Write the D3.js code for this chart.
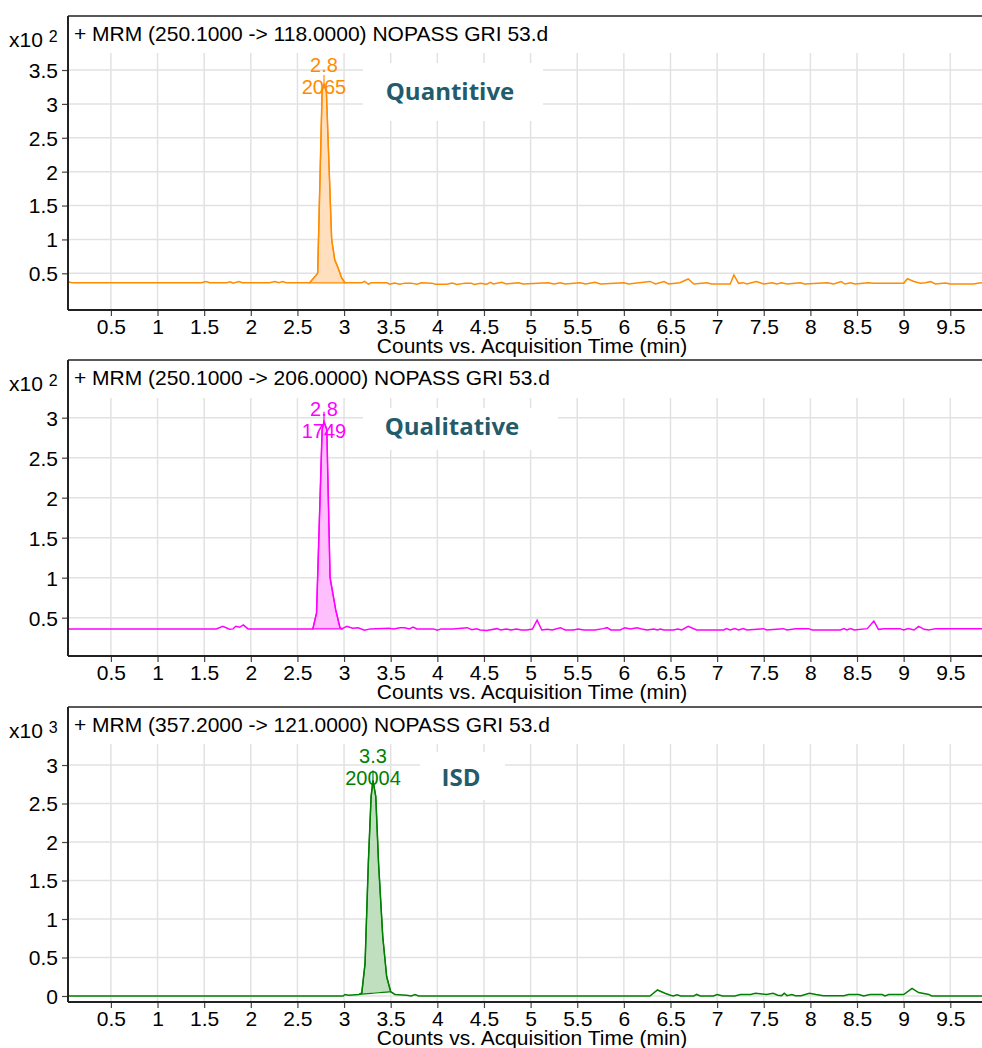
<!DOCTYPE html>
<html>
<head>
<meta charset="utf-8">
<script src="https://cdn.jsdelivr.net/npm/d3@7"></script>
<style>
  body { margin: 0; background: #fff; }
  svg { display: block; font-family: 'Liberation Sans', Arial, sans-serif; }
  .tick text { font-size: 21px; fill: #000; }
  .big-label { font-family: 'Open Sans', sans-serif; font-weight: 700; font-size: 24px; fill: #235b6b; }
</style>
</head>
<body>
<div id="chart"></div>
<script>
// Data
const xTicks = [0.5, 1, 1.5, 2, 2.5, 3, 3.5, 4, 4.5, 5, 5.5, 6, 6.5, 7, 7.5, 8, 8.5, 9, 9.5];
const yTicksQuant = [0.5, 1, 1.5, 2, 2.5, 3, 3.5];
const yTicksQual = [0.5, 1, 1.5, 2, 2.5, 3];
const yTicksIsd = [0, 0.5, 1, 1.5, 2, 2.5, 3];

const titles = [
  '+ MRM (250.1000 -> 118.0000) NOPASS GRI 53.d',
  '+ MRM (250.1000 -> 206.0000) NOPASS GRI 53.d',
  '+ MRM (357.2000 -> 121.0000) NOPASS GRI 53.d',
];
const exponents = ['2', '2', '3'];
const compoundLabels = ['Quantitive', 'Qualitative', 'ISD'];
const rtLabels = ['2.8', '2.8', '3.3'];
const areaLabels = ['2065', '1749', '20004'];
const apexTimes = [2.785, 2.785, 3.31];
const integration = [[2.63, 3.01], [2.665, 2.975], [3.16, 3.5]];

// [time (min), counts (x10^2)]
const traceQuant = [
  [0.04, 0.375], [0.08, 0.36], [1.47, 0.36], [1.52, 0.38], [1.56, 0.36], [1.74, 0.36], [1.78, 0.375],
  [1.81, 0.355], [1.87, 0.38], [1.91, 0.36], [2.2, 0.36], [2.26, 0.38], [2.3, 0.36], [2.34, 0.38],
  [2.38, 0.36], [2.63, 0.36], [2.68, 0.44], [2.717, 0.5], [2.765, 3.2], [2.785, 3.28], [2.81, 3.2],
  [2.867, 1.0], [2.9, 0.7], [2.93, 0.6], [2.975, 0.43], [3.01, 0.36], [3.19, 0.36], [3.22, 0.38],
  [3.26, 0.34], [3.29, 0.36], [3.46, 0.36], [3.49, 0.34], [3.54, 0.355], [3.6, 0.34], [3.65, 0.355],
  [3.72, 0.355], [3.78, 0.34], [3.83, 0.36], [3.94, 0.355], [3.98, 0.34], [4.1, 0.34], [4.16, 0.355],
  [4.21, 0.335], [4.3, 0.355], [4.36, 0.355], [4.4, 0.335], [4.46, 0.352], [4.53, 0.34], [4.57, 0.367],
  [4.6, 0.342], [4.69, 0.367], [4.74, 0.342], [4.87, 0.362], [4.92, 0.342], [5.19, 0.362], [5.25, 0.342],
  [5.32, 0.362], [5.37, 0.342], [5.53, 0.362], [5.59, 0.342], [5.69, 0.367], [5.75, 0.342], [6.0, 0.362],
  [6.05, 0.342], [6.28, 0.38], [6.34, 0.342], [6.43, 0.377], [6.48, 0.342], [6.6, 0.362], [6.69, 0.416],
  [6.75, 0.342], [6.89, 0.362], [6.94, 0.342], [7.14, 0.342], [7.18, 0.475], [7.23, 0.352], [7.28, 0.362],
  [7.32, 0.342], [7.42, 0.377], [7.5, 0.342], [7.59, 0.362], [7.64, 0.342], [7.69, 0.362], [7.75, 0.342],
  [7.89, 0.362], [7.94, 0.342], [8.18, 0.362], [8.25, 0.342], [8.33, 0.377], [8.37, 0.342], [8.43, 0.362],
  [8.48, 0.342], [8.62, 0.362], [8.68, 0.352], [9.0, 0.352], [9.04, 0.42], [9.11, 0.38], [9.18, 0.352],
  [9.23, 0.362], [9.29, 0.377], [9.34, 0.342], [9.45, 0.357], [9.5, 0.342], [9.75, 0.342], [9.81, 0.357],
  [9.84, 0.362],
];

// [time (min), counts (x10^2)]
const traceQual = [
  [0.04, 0.36], [1.63, 0.36], [1.7, 0.392], [1.77, 0.355], [1.81, 0.36], [1.84, 0.392], [1.88, 0.38],
  [1.92, 0.41], [1.97, 0.36], [2.665, 0.36], [2.705, 0.56], [2.765, 2.85], [2.785, 2.95], [2.815, 2.85],
  [2.85, 1.0], [2.91, 0.6], [2.955, 0.38], [2.975, 0.36], [3.03, 0.392], [3.09, 0.367], [3.15, 0.375],
  [3.22, 0.343], [3.28, 0.36], [3.48, 0.367], [3.53, 0.36], [3.6, 0.375], [3.65, 0.375], [3.7, 0.36],
  [3.74, 0.383], [3.78, 0.36], [3.96, 0.36], [4.0, 0.343], [4.04, 0.36], [4.17, 0.36], [4.32, 0.375],
  [4.37, 0.35], [4.42, 0.36], [4.46, 0.346], [4.53, 0.34], [4.64, 0.363], [4.68, 0.346], [4.74, 0.358],
  [4.79, 0.346], [4.85, 0.358], [4.9, 0.346], [4.96, 0.346], [5.02, 0.358], [5.07, 0.47], [5.12, 0.346],
  [5.18, 0.354], [5.23, 0.346], [5.32, 0.375], [5.37, 0.346], [5.46, 0.346], [5.51, 0.358], [5.57, 0.346],
  [5.69, 0.346], [5.78, 0.363], [5.82, 0.375], [5.86, 0.346], [5.96, 0.346], [6.01, 0.375], [6.07, 0.358],
  [6.14, 0.375], [6.19, 0.358], [6.25, 0.346], [6.32, 0.358], [6.36, 0.346], [6.39, 0.358], [6.43, 0.346],
  [6.53, 0.346], [6.58, 0.358], [6.62, 0.346], [6.69, 0.392], [6.78, 0.346], [7.07, 0.346], [7.1, 0.363],
  [7.14, 0.346], [7.19, 0.363], [7.23, 0.346], [7.28, 0.363], [7.32, 0.346], [7.5, 0.363], [7.53, 0.346],
  [7.71, 0.363], [7.75, 0.346], [7.84, 0.363], [7.98, 0.363], [8.02, 0.346], [8.32, 0.346], [8.36, 0.363],
  [8.39, 0.346], [8.43, 0.363], [8.47, 0.346], [8.61, 0.363], [8.68, 0.459], [8.73, 0.354], [8.79, 0.363],
  [8.96, 0.363], [9.0, 0.346], [9.05, 0.363], [9.11, 0.346], [9.16, 0.392], [9.22, 0.354], [9.27, 0.346],
  [9.3, 0.354], [9.34, 0.363], [9.84, 0.363],
];

// [time (min), counts (x10^3)]
const traceIsd = [
  [0.04, 0.0], [2.99, 0.0], [3.01, 0.02], [3.05, 0.01], [3.16, 0.02], [3.19, 0.04], [3.225, 0.42],
  [3.26, 1.72], [3.29, 2.59], [3.31, 2.8], [3.34, 2.59], [3.37, 1.72], [3.415, 0.77], [3.457, 0.25],
  [3.5, 0.056], [3.546, 0.02], [3.67, 0.01], [3.72, 0.0], [3.76, 0.02], [3.8, 0.0], [6.28, 0.0],
  [6.36, 0.078], [6.44, 0.035], [6.5, 0.01], [6.53, 0.0], [6.57, 0.015], [6.61, 0.0], [6.75, 0.0],
  [6.78, 0.02], [6.82, 0.0], [6.96, 0.0], [7.0, 0.02], [7.06, 0.0], [7.19, 0.0], [7.25, 0.02],
  [7.36, 0.02], [7.41, 0.035], [7.46, 0.03], [7.53, 0.018], [7.6, 0.035], [7.65, 0.01], [7.69, 0.005],
  [7.72, 0.035], [7.75, 0.004], [7.8, 0.018], [7.84, 0.004], [7.9, 0.004], [7.99, 0.035], [8.06, 0.018],
  [8.14, 0.004], [8.36, 0.004], [8.41, 0.018], [8.52, 0.018], [8.57, 0.0], [8.64, 0.018], [8.77, 0.018],
  [8.8, 0.0], [8.84, 0.018], [9.0, 0.018], [9.09, 0.1], [9.16, 0.045], [9.27, 0.02], [9.3, 0.0],
  [9.84, 0.0],
];

// Layout
const width = 982;
const height = 1048;
const plotLeft = 68;
const plotRight = 982;

const panels = [
  {
    top: 16, gridTop: 53, axisY: 310, yDomain: [-0.0415, 3.751], yTicks: yTicksQuant,
    trace: traceQuant, stroke: '#ff8c00', fill: '#ffdfbd',
    box: [363, 63, 180, 58], labelX: 450, labelY: 100,
  },
  {
    top: 360, gridTop: 398, axisY: 656, yDomain: [0.021, 3.246], yTicks: yTicksQual,
    trace: traceQual, stroke: '#ff00ff', fill: '#ffbfff',
    box: [363, 408, 195, 42], labelX: 452, labelY: 435,
  },
  {
    top: 707, gridTop: 744, axisY: 1002, yDomain: [-0.078, 3.273], yTicks: yTicksIsd,
    trace: traceIsd, stroke: '#008000', fill: '#bfdfbf',
    box: [420, 752, 85, 48], labelX: 461, labelY: 786,
  },
];

const xScale = d3.scaleLinear().domain([0.04, 9.84]).range([plotLeft, plotRight]);

const svg = d3
  .select('#chart')
  .append('svg')
  .attr('width', width)
  .attr('height', height);

panels.forEach((p, i) => {
  const yScale = d3.scaleLinear().domain(p.yDomain).range([p.axisY, p.gridTop]);
  const g = svg.append('g');

  // grid
  g.append('g')
    .selectAll('line')
    .data(xTicks)
    .join('line')
    .attr('x1', (d) => xScale(d))
    .attr('x2', (d) => xScale(d))
    .attr('y1', p.gridTop)
    .attr('y2', p.axisY)
    .attr('stroke', '#e2e2e2')
    .attr('stroke-width', 1.5);
  g.append('g')
    .selectAll('line')
    .data(p.yTicks)
    .join('line')
    .attr('x1', plotLeft)
    .attr('x2', plotRight)
    .attr('y1', (d) => yScale(d))
    .attr('y2', (d) => yScale(d))
    .attr('stroke', '#e2e2e2')
    .attr('stroke-width', 1.5);

  // white box behind the compound label
  g.append('rect')
    .attr('x', p.box[0])
    .attr('y', p.box[1])
    .attr('width', p.box[2])
    .attr('height', p.box[3])
    .attr('fill', '#fff');

  // integrated peak area (between trace and a straight baseline)
  const [t0, t1] = integration[i];
  const interp = (t) => {
    const idx = d3.bisector((d) => d[0]).left(p.trace, t);
    const a = p.trace[Math.max(0, idx - 1)];
    const b = p.trace[Math.min(p.trace.length - 1, idx)];
    if (a[0] === b[0]) return a[1];
    return a[1] + ((b[1] - a[1]) * (t - a[0])) / (b[0] - a[0]);
  };
  const v0 = interp(t0);
  const v1 = interp(t1);
  const peakPts = [[t0, v0], ...p.trace.filter((d) => d[0] > t0 && d[0] < t1), [t1, v1]];
  const area = d3
    .area()
    .x((d) => xScale(d[0]))
    .y0((d) => yScale(v0 + ((v1 - v0) * (d[0] - t0)) / (t1 - t0)))
    .y1((d) => yScale(d[1]));
  g.append('path')
    .datum(peakPts)
    .attr('d', area)
    .attr('fill', p.fill)
    .attr('stroke', p.stroke)
    .attr('stroke-width', 1.2);

  // chromatogram trace
  const line = d3
    .line()
    .x((d) => xScale(d[0]))
    .y((d) => yScale(d[1]));
  g.append('path')
    .datum(p.trace)
    .attr('d', line)
    .attr('fill', 'none')
    .attr('stroke', p.stroke)
    .attr('stroke-width', 1.5);

  // apex marker + labels
  const apexX = xScale(apexTimes[i]);
  const apexY = yScale(interp(apexTimes[i]));
  g.append('line')
    .attr('x1', apexX)
    .attr('x2', apexX)
    .attr('y1', apexY)
    .attr('y2', apexY - 10)
    .attr('stroke', p.stroke)
    .attr('stroke-width', 1.2);
  g.append('text')
    .attr('x', apexX)
    .attr('y', p.top + 56)
    .attr('text-anchor', 'middle')
    .attr('fill', p.stroke)
    .style('font-size', '20px')
    .text(rtLabels[i]);
  g.append('text')
    .attr('x', apexX)
    .attr('y', p.top + 77.5)
    .attr('text-anchor', 'middle')
    .attr('fill', p.stroke)
    .style('font-size', '20px')
    .text(areaLabels[i]);

  g.append('text')
    .attr('class', 'big-label')
    .attr('x', p.labelX)
    .attr('y', p.labelY)
    .attr('text-anchor', 'middle')
    .text(compoundLabels[i]);

  // axes
  const xAxis = d3.axisBottom(xScale).tickValues(xTicks).tickSize(6).tickPadding(3).tickFormat(d3.format(''));
  const xg = g.append('g').attr('transform', `translate(0, ${p.axisY})`).call(xAxis);
  xg.select('.domain').remove();
  xg.selectAll('.tick line').attr('stroke', '#444').attr('stroke-width', 1.2);

  const yAxis = d3.axisLeft(yScale).tickValues(p.yTicks).tickSize(6).tickPadding(4).tickFormat(d3.format(''));
  const yg = g.append('g').attr('transform', `translate(${plotLeft}, 0)`).call(yAxis);
  yg.select('.domain').remove();
  yg.selectAll('.tick line').attr('stroke', '#444').attr('stroke-width', 1.2);
  yg.selectAll('.tick text').attr('dy', '0.35em');

  // frame
  g.append('line')
    .attr('x1', plotLeft).attr('x2', plotRight)
    .attr('y1', p.top).attr('y2', p.top)
    .attr('stroke', '#222').attr('stroke-width', 1.5);
  g.append('line')
    .attr('x1', plotLeft).attr('x2', plotLeft)
    .attr('y1', p.top).attr('y2', p.axisY)
    .attr('stroke', '#222').attr('stroke-width', 2);
  g.append('line')
    .attr('x1', plotLeft).attr('x2', plotRight)
    .attr('y1', p.axisY).attr('y2', p.axisY)
    .attr('stroke', '#222').attr('stroke-width', 2.2);

  // title inside frame
  g.append('text')
    .attr('x', 74)
    .attr('y', p.top + 24.5)
    .style('font-size', '21px')
    .text(titles[i]);

  // multiplier
  const mult = g.append('text').attr('x', 9).attr('y', p.top + 30.5).style('font-size', '21px');
  mult.append('tspan').text('x10 ');
  mult.append('tspan').attr('dy', -5).style('font-size', '16px').text(exponents[i]);

  // x-axis name
  g.append('text')
    .attr('x', 532)
    .attr('y', p.axisY + 43)
    .attr('text-anchor', 'middle')
    .style('font-size', '21px')
    .text('Counts vs. Acquisition Time (min)');
});
</script>
</body>
</html>
